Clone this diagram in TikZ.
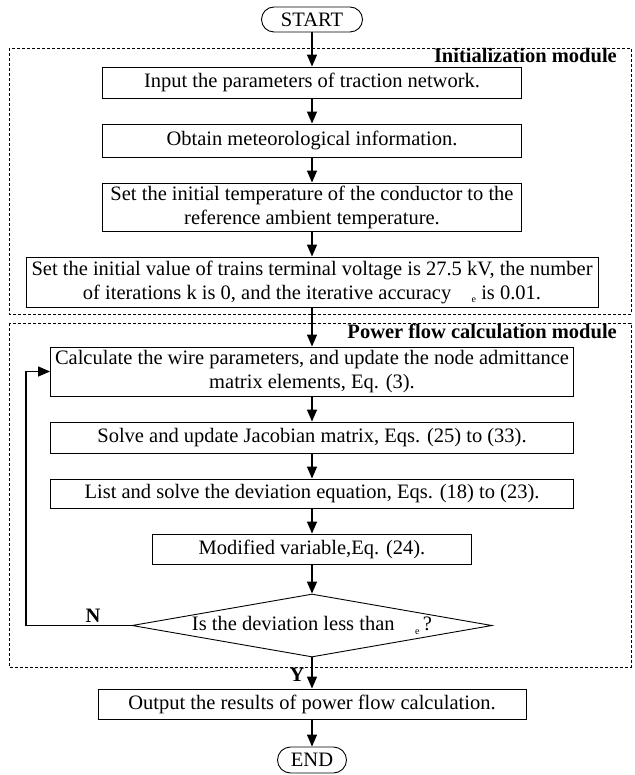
\documentclass[tikz,border=0pt]{standalone}
\usepackage{fontspec}
\setmainfont{Liberation Serif}
\usetikzlibrary{arrows.meta,shapes.geometric,shapes.misc}
\newcommand{\subE}{\raisebox{-0.35ex}{\fontsize{10}{10}\selectfont e}}
\begin{document}
\begin{tikzpicture}[x=1pt,y=-1pt,
  every node/.style={font=\fontsize{20.5}{24}\selectfont},
  proc/.style={draw, line width=0.9pt, rectangle, inner sep=0pt, align=center},
  term/.style={draw, line width=0.9pt, rounded rectangle, inner sep=0pt},
  decis/.style={draw, line width=0.9pt, diamond, shape aspect=5.7, inner sep=0pt},
  arr/.style={line width=1.4pt, -{Triangle[length=12pt,width=10pt]}},
  frame/.style={line width=0.7pt, dash pattern=on 3pt off 2pt},
  lbl/.style={font=\fontsize{20.5}{24}\selectfont\bfseries, inner sep=0pt}]
\useasboundingbox (0,0) rectangle (634,775);

% module frames
\draw[frame] (9,48) rectangle (631,314);
\draw[frame] (9,323) rectangle (631,667);
\node[lbl, anchor=base east] (lab1) at (617,63) {Initialization module};
\node[lbl, anchor=base east] (lab2) at (617,338) {Power flow calculation module};

% nodes
\node[term, minimum width=101pt, minimum height=25pt] (start) at (312,19.5) {START};
\node[proc, minimum width=419pt, minimum height=31pt] (b1) at (312,82.5) {Input the parameters of traction network.};
\node[proc, minimum width=419pt, minimum height=33pt] (b2) at (312,140.5) {Obtain meteorological information.};
\node[proc, minimum width=419pt, minimum height=48pt] (b3) at (312,207) {Set the initial temperature of the conductor to the\\reference ambient temperature.};
\node[proc, minimum width=572pt, minimum height=50pt] (b4) at (312,282) {Set the initial value of trains terminal voltage is 27.5 kV, the number\\of iterations k is 0, and the iterative accuracy \hspace{0.75em}\subE\ is 0.01.};
\node[proc, minimum width=523pt, minimum height=49pt] (b5) at (312,371.5) {Calculate the wire parameters, and update the node admittance\\matrix elements, Eq. (3).};
\node[proc, minimum width=523pt, minimum height=31pt] (b6) at (312,437.5) {Solve and update Jacobian matrix, Eqs. (25) to (33).};
\node[proc, minimum width=523pt, minimum height=29pt] (b7) at (312,493.5) {List and solve the deviation equation, Eqs. (18) to (23).};
\node[proc, minimum width=319pt, minimum height=30pt] (b8) at (312,549) {Modified variable,Eq. (24).};
\node[decis, minimum width=360pt, minimum height=63pt] (dec) at (312,625.5) {Is the deviation less than \hspace{0.75em}\subE\,?};
\node[proc, minimum width=428pt, minimum height=30pt] (out) at (312,704) {Output the results of power flow calculation.};
\node[term, minimum width=69pt, minimum height=26pt] (stop) at (312,760) {END};

% connectors
\draw[arr] (start.south) -- (b1.north);
\draw[arr] (b1.south) -- (b2.north);
\draw[arr] (b2.south) -- (b3.north);
\draw[arr] (b3.south) -- (b4.north);
\draw[arr] (b4.south) -- (b5.north);
\draw[arr] (b5.south) -- (b6.north);
\draw[arr] (b6.south) -- (b7.north);
\draw[arr] (b7.south) -- (b8.north);
\draw[arr] (b8.south) -- (dec.north);
\draw[arr] (dec.south) -- (out.north);
\draw[arr] (out.south) -- (stop.north);
\coordinate (fbx) at (26,0);
\draw[arr] (dec.west) -- (dec.west -| fbx) |- (b5.west);
\node[lbl, anchor=base] (nlab) at (93,622) {N};
\node[lbl, anchor=base] (ylab) at (297,681) {Y};
\end{tikzpicture}
\end{document}
